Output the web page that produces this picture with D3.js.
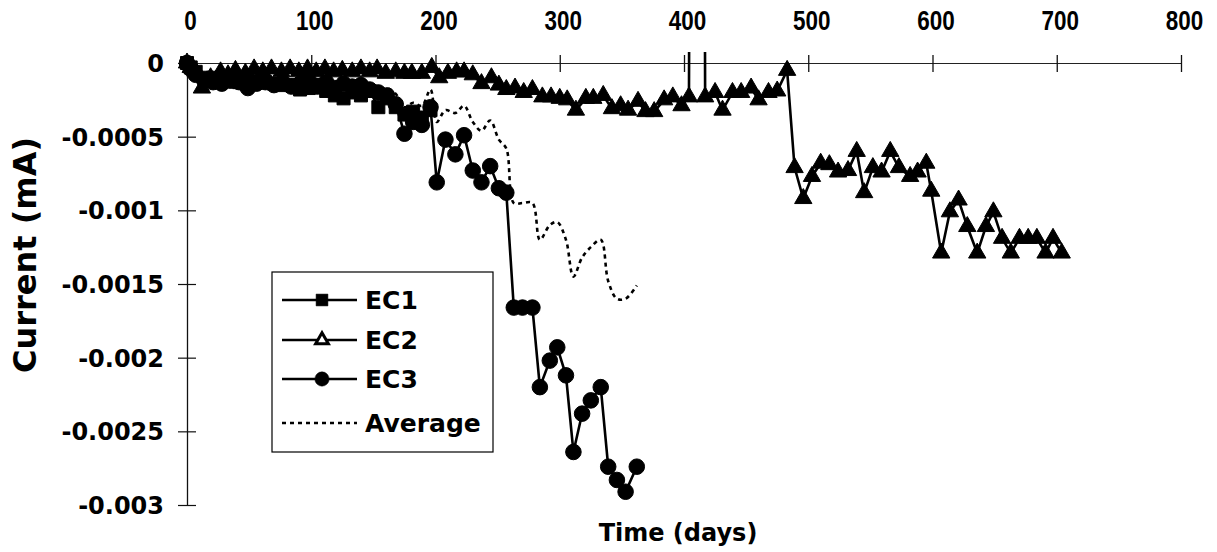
<!DOCTYPE html>
<html>
<head>
<meta charset="utf-8">
<script src="https://cdn.jsdelivr.net/npm/d3@7"></script>
<style>
  body { margin: 0; background: #fff; }
  svg { display: block; }
</style>
</head>
<body>
<svg id="chart" width="1217" height="552"></svg>
<script>
// data (days, current in mA)
var ec1Days = [0,3,7,14,21,28,35,42,49,56,63,70,77,84,91,98,105,112,119,126,133,140,147,154,161,168,175,182,189,196];
var ec1Vals = [0,-0.00003,-0.00006,-0.0001,-0.0001,-0.00012,-0.00012,-0.00013,-0.00011,-0.00013,-0.00013,-0.00014,-0.00015,-0.00015,-0.00018,-0.00017,-0.00015,-0.00019,-0.00022,-0.00024,-0.0002,-0.00022,-0.00019,-0.0003,-0.00024,-0.0003,-0.00035,-0.00033,-0.00037,-0.00032];

var ec2Days = [0,3,7,12,19,27,33,39,47,54,61,68,76,83,90,97,104,111,118,125,133,140,147,153,160,168,
  175,181,189,197,203,210,217,223,230,237,245,251,257,264,271,278,286,293,300,306,313,321,327,335,342,349,355,363,369,376,384,391,398,404,
  411,417,425,431,439,446,454,460,468,475,483,489,496,503,510,517,524,532,539,545,552,559,566,573,582,588,595,599,
  607,614,621,628,636,643,649,656,663,670,677,684,691,697,704];
var ec2Vals = [0,-0.00003,-0.00006,-0.00017,-0.0001,-0.00006,-0.00008,-0.00005,-0.00007,-0.00004,-0.00006,-0.00004,-0.00006,-0.00004,-0.00006,-0.00004,-0.00006,-0.00004,-0.00006,-0.00005,-0.00006,-0.00004,-0.00006,-0.00004,-0.00007,-0.00006,
  -0.00007,-0.00007,-0.00007,-0.00003,-0.0001,-0.00007,-0.00006,-0.00006,-0.00008,-0.00014,-0.0001,-0.00015,-0.00018,-0.00017,-0.0002,-0.00018,-0.00023,-0.00023,-0.00024,-0.00025,-0.00032,-0.00024,-0.00024,-0.00022,-0.00031,-0.00029,-0.00032,-0.00026,-0.00033,-0.00033,-0.00025,-0.00023,-0.00029,-0.00023,
  0.02,-0.00023,-0.0002,-0.00032,-0.0002,-0.0002,-0.00017,-0.00025,-0.0002,-0.00019,-0.00005,-0.00071,-0.00092,-0.00077,-0.00068,-0.00069,-0.00074,-0.00073,-0.0006,-0.00088,-0.00071,-0.00074,-0.0006,-0.00071,-0.00077,-0.00074,-0.00068,-0.00087,
  -0.00129,-0.00101,-0.00093,-0.00111,-0.00129,-0.00111,-0.00101,-0.00119,-0.00129,-0.00119,-0.00119,-0.00119,-0.00129,-0.00119,-0.00129];

var ec3Days = [0,3,7,14,21,28,35,42,49,56,63,70,77,84,91,98,105,112,119,126,133,140,147,154,161,168,175,182,189,196,
  201,208,216,223,230,237,244,251,257,263,270,278,284,292,298,305,311,318,325,333,339,346,353,362];
var ec3Vals = [0,-0.00004,-0.00008,-0.00012,-0.00013,-0.00014,-0.00012,-0.00013,-0.00017,-0.00014,-0.00013,-0.00015,-0.00013,-0.00016,-0.00014,-0.00012,-0.00016,-0.00013,-0.00017,-0.00014,-0.00016,-0.00015,-0.00018,-0.0002,-0.00022,-0.00028,-0.00048,-0.0004,-0.00042,-0.0003,
  -0.00081,-0.00052,-0.00062,-0.00049,-0.00073,-0.00081,-0.0007,-0.00085,-0.00088,-0.00166,-0.00166,-0.00166,-0.0022,-0.00202,-0.00193,-0.00212,-0.00264,-0.00238,-0.00229,-0.0022,-0.00274,-0.00283,-0.00291,-0.00274];

var avgDays = ec3Days;
var avgVals = [0,-0.00003,-0.00007,-0.00013,-0.00011,-0.00011,-0.00011,-0.0001,-0.00012,-0.0001,-0.00011,-0.00011,-0.00011,-0.00012,-0.00013,-0.00011,-0.00012,-0.00012,-0.00015,-0.00014,-0.00014,-0.00014,-0.00014,-0.00018,-0.00017,-0.00021,-0.0003,-0.00027,-0.00029,-0.00018,
  -0.0004,-0.00032,-0.00034,-0.00029,-0.0004,-0.00046,-0.00039,-0.00052,-0.00058,-0.00095,-0.00095,-0.00095,-0.0012,-0.0011,-0.00108,-0.0012,-0.00145,-0.00132,-0.00125,-0.0012,-0.00148,-0.0016,-0.0016,-0.00151];

var xTicks = [0,100,200,300,400,500,600,700,800];
var yTicks = [0,-0.0005,-0.001,-0.0015,-0.002,-0.0025,-0.003];
var seriesNames = ["EC1","EC2","EC3","Average"];

var svg = d3.select('#chart');
var boldFont = "'DejaVu Sans', sans-serif";

var x = d3.scaleLinear().domain([0, 800]).range([187, 1181]);
var y = d3.scaleLinear().domain([-0.003, 0]).range([505, 63]);

function pts(days, vals) {
    return days.map(function(d, i) { return { day: d, v: vals[i] }; });
}

// clip so the big EC2 spike gets cut off near the top
svg.append('clipPath').attr('id', 'plotclip')
    .append('rect').attr('x', 0).attr('y', 52).attr('width', 1217).attr('height', 500);

// x axis (along zero line, labels on top, narrow bold digits)
var xAxis = svg.append('g')
    .attr('transform', 'translate(0,' + y(0) + ')')
    .call(d3.axisTop(x).tickValues(xTicks).tickFormat(d3.format('d')).tickSizeOuter(0));
xAxis.select('.domain').attr('stroke', '#222').attr('stroke-width', 1);
xAxis.selectAll('.tick line').attr('y1', -8).attr('y2', 9).attr('stroke', '#111').attr('stroke-width', 1.3);
xAxis.selectAll('.tick text')
    .attr('y', -33).attr('dx', 3)
    .attr('fill', '#000')
    .attr('textLength', function(d) { return String(d).length * 12.5; })
    .attr('lengthAdjust', 'spacingAndGlyphs')
    .style('font-family', "'Liberation Sans', Arial, sans-serif")
    .style('font-weight', 'bold')
    .style('font-size', '27px');

// y axis
var yAxis = svg.append('g')
    .attr('transform', 'translate(' + x(0) + ',0)')
    .call(d3.axisLeft(y).tickValues(yTicks).tickFormat(function(d) { return d === 0 ? '0' : String(d); }).tickSizeOuter(0));
yAxis.select('.domain').attr('stroke', '#111').attr('stroke-width', 1.3);
yAxis.selectAll('.tick line').attr('x1', -9).attr('x2', 9).attr('stroke', '#111').attr('stroke-width', 1.2);
yAxis.selectAll('.tick text')
    .attr('x', -23).attr('dy', '0.36em')
    .attr('fill', '#000')
    .style('font-family', boldFont)
    .style('font-weight', 'bold')
    .style('font-size', '24px');

// axis titles
svg.append('text')
    .attr('x', 678).attr('y', 541)
    .attr('text-anchor', 'middle')
    .style('font-family', boldFont).style('font-weight', 'bold').style('font-size', '24px')
    .text('Time (days)');
svg.append('text')
    .attr('transform', 'translate(36,255) rotate(-90)')
    .attr('text-anchor', 'middle')
    .style('font-family', boldFont).style('font-weight', 'bold').style('font-size', '32px')
    .text('Current (mA)');

var line = d3.line().x(function(d) { return x(d.day); }).y(function(d) { return y(d.v); });
var smooth = d3.line().x(function(d) { return x(d.day); }).y(function(d) { return y(d.v); }).curve(d3.curveCatmullRom.alpha(0.5));

var plot = svg.append('g').attr('clip-path', 'url(#plotclip)');

var sq = d3.symbol().type(d3.symbolSquare).size(169);
var tri = d3.symbol().type(d3.symbolTriangle).size(130);
var circ = d3.symbol().type(d3.symbolCircle).size(190);

function drawSeries(data, sym) {
    plot.append('path').datum(data)
        .attr('d', line)
        .attr('fill', 'none').attr('stroke', '#000').attr('stroke-width', 2.6);
    plot.append('g').selectAll('path')
        .data(data.filter(function(d) { return d.v <= 0.0001; }))
        .enter().append('path')
        .attr('transform', function(d) { return 'translate(' + x(d.day) + ',' + y(d.v) + ')'; })
        .attr('d', sym)
        .style('fill', '#000')
        .style('stroke', '#000')
        .style('stroke-width', 1);
}

drawSeries(pts(ec1Days, ec1Vals), sq);
drawSeries(pts(ec2Days, ec2Vals), tri);
drawSeries(pts(ec3Days, ec3Vals), circ);

plot.append('path').datum(pts(avgDays, avgVals))
    .attr('d', smooth)
    .attr('fill', 'none').attr('stroke', '#000').attr('stroke-width', 2.6)
    .attr('stroke-dasharray', '4,4');

// legend
var legend = svg.append('g');
legend.append('rect')
    .attr('x', 272).attr('y', 272).attr('width', 221).attr('height', 180)
    .attr('fill', '#fff').attr('stroke', '#000').attr('stroke-width', 1.2);

var legendY = [300, 340, 379, 423];
var legendSyms = [d3.symbol().type(d3.symbolSquare).size(140), d3.symbol().type(d3.symbolTriangle).size(70), d3.symbol().type(d3.symbolCircle).size(160), null];

seriesNames.forEach(function(name, i) {
    var ly = legendY[i];
    legend.append('line')
        .attr('x1', 282).attr('x2', 357).attr('y1', ly).attr('y2', ly)
        .attr('stroke', '#000').attr('stroke-width', 2.4)
        .attr('stroke-dasharray', name === 'Average' ? '4,4' : null);
    if (legendSyms[i]) {
        legend.append('path')
            .attr('transform', 'translate(322,' + ly + ')')
            .attr('d', legendSyms[i])
            .attr('fill', i === 1 ? '#fff' : '#000')
            .attr('stroke', '#000')
            .attr('stroke-width', i === 1 ? 3 : 0.5);
    }
    legend.append('text')
        .attr('x', 365).attr('y', ly + 9)
        .style('font-family', boldFont).style('font-weight', 'bold').style('font-size', '25px')
        .text(name);
});
</script>
</body>
</html>
